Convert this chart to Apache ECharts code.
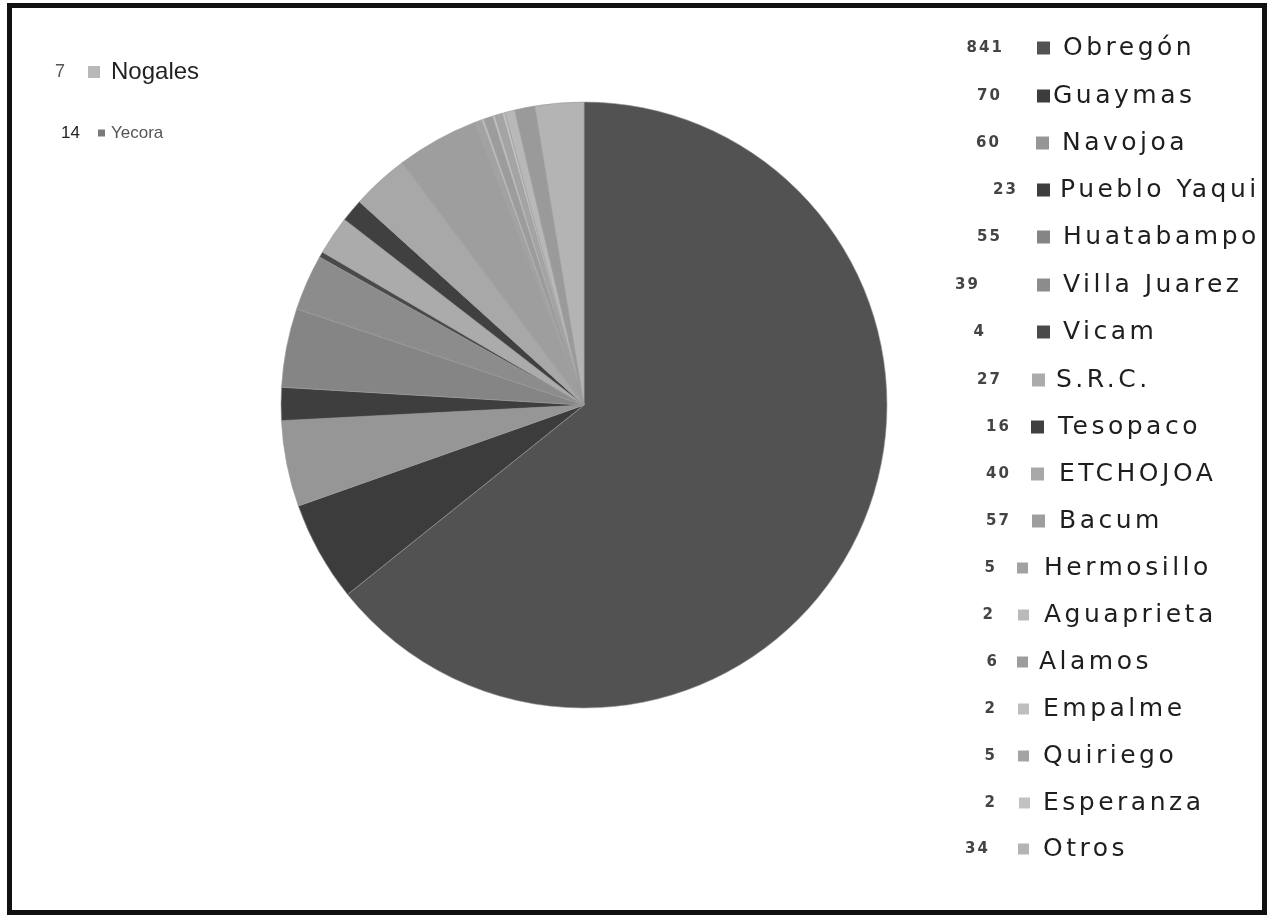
<!DOCTYPE html>
<html>
<head>
<meta charset="utf-8">
<script src="https://cdn.jsdelivr.net/npm/echarts@6/dist/echarts.min.js"></script>
<style>
html,body{margin:0;padding:0;background:#fff;}
#chart{width:1269px;height:916px;}
</style>
</head>
<body>
<div id="chart"></div>
<script>
// ---- data (pie order, clockwise from 12 o'clock) ----
var categories = ['Obregón','Guaymas','Navojoa','Pueblo Yaqui','Huatabampo','Villa Juarez','Vicam','S.R.C.','Tesopaco','ETCHOJOA','Bacum','Hermosillo','Aguaprieta','Alamos','Empalme','Quiriego','Esperanza','Nogales','Yecora','Otros'];
var values = [841,70,60,23,55,39,4,27,16,40,57,5,2,6,2,5,2,7,14,34];
var valueLabels = ['841','70','60','23','55','39','4','27','16','40','57','5','2','6','2','5','2','7','14','34'];
var rightLegendNames = ['Obregón','Guaymas','Navojoa','Pueblo Yaqui','Huatabampo','Villa Juarez','Vicam','S.R.C.','Tesopaco','ETCHOJOA','Bacum','Hermosillo','Aguaprieta','Alamos','Empalme','Quiriego','Esperanza','Otros'];
var leftLegendNames = ['Nogales','Yecora'];

// ---- styles / layout (kept apart from the data) ----
var colors = ['#525252','#3c3c3c','#969696','#3e3e3e','#858585','#8c8c8c','#4a4a4a','#ababab','#404040','#a8a8a8','#9e9e9e','#a2a2a2','#bababa','#9c9c9c','#bebebe','#a4a4a4','#c2c2c2','#b8b8b8','#9a9a9a','#b4b4b4'];
var yecoraIconColor = '#7a7a7a';
// right legend rows: number right edge, box left, text left, row centre y, box size
var rNumRight = [1004,1002,1001,1018,1002,980,986,1002,1011,1011,1011,997,995,999,997,997,997,990];
var rBoxLeft  = [1036,1036,1035,1036,1036,1036,1036,1031,1030,1030,1031,1016,1017,1016,1017,1017,1018,1017];
var rTextLeft = [1062,1052,1061,1059,1062,1062,1062,1055,1057,1058,1058,1043,1043,1038,1042,1042,1042,1042];
var rY = [48,96,143,190,237,285,332,380,427,474,521,568,615,662,709,756,803,849];
var rBox = [13,13,13,13,13,13,13,13,13,13,13,11,11,11,11,11,11,11];
// left legend rows
var lNumRight = [65, 80];
var lBoxLeft = [87, 97];
var lTextLeft = [110, 110];
var lY = [72, 133];
var lBox = [12, 7];

// letter spacing only for the wide DejaVu text of the scanned original
(function () {
  var proto = CanvasRenderingContext2D.prototype;
  var orig = proto.fillText;
  proto.fillText = function (t, x, y, mw) {
    var spaced = /DejaVu/.test(this.font);
    if ('letterSpacing' in this) {
      if (spaced) {
        var m = /(\d+(?:\.\d+)?)px/.exec(this.font);
        var fs = m ? parseFloat(m[1]) : 12;
        this.letterSpacing = (fs * 0.14).toFixed(1) + 'px';
      } else {
        this.letterSpacing = '0px';
      }
    }
    if (mw === undefined) orig.call(this, t, x, y); else orig.call(this, t, x, y, mw);
    if ('letterSpacing' in this) this.letterSpacing = '0px';
  };
})();

// ---- build ----
var pieData = categories.map(function (c, i) {
  return { name: c, value: values[i], itemStyle: { color: colors[i] } };
});

var legends = [];
var graphics = [
  { type: 'rect', shape: { x: 9.5, y: 5.5, width: 1255, height: 907 }, style: { fill: 'none', stroke: '#111', lineWidth: 5 }, silent: true }
];

function addRow(name, numRight, boxLeft, textLeft, y, box, fontFamily, fontSize, textColor, numFont, numColor, iconColor) {
  var i = categories.indexOf(name);
  var lh = 30;
  var legLeft = boxLeft - 40;
  var rich = {
    sp: { width: boxLeft - legLeft - 5, height: 1 },
    bx: { width: box, height: box, backgroundColor: iconColor || colors[i] },
    t: { fontSize: fontSize, fontFamily: fontFamily, color: textColor, lineHeight: lh,
         padding: [0, 0, 0, textLeft - boxLeft - box] }
  };
  legends.push({
    orient: 'vertical', icon: 'rect', itemWidth: 0, itemHeight: 0, padding: 0,
    selectedMode: false, data: [name],
    left: legLeft, top: y - lh / 2,
    formatter: function (n) { return '{sp|}{bx|}{t|' + n + '}'; },
    textStyle: { lineHeight: lh, fontFamily: fontFamily, fontSize: fontSize, rich: rich }
  });
  graphics.push({
    type: 'text', silent: true,
    x: numRight, y: y,
    style: { text: valueLabels[i], align: 'right', verticalAlign: 'middle', font: numFont, fill: numColor }
  });
}

rightLegendNames.forEach(function (name, k) {
  addRow(name, rNumRight[k], rBoxLeft[k], rTextLeft[k], rY[k], rBox[k],
    'DejaVu Sans', 25, '#1e1e1e', 'bold 15px "DejaVu Sans"', '#444444');
});
addRow(leftLegendNames[0], lNumRight[0], lBoxLeft[0], lTextLeft[0], lY[0], lBox[0],
  'Liberation Sans', 24, '#222222', '18px "Liberation Sans"', '#555555');
addRow(leftLegendNames[1], lNumRight[1], lBoxLeft[1], lTextLeft[1], lY[1], lBox[1],
  'Liberation Sans', 17, '#555555', '17px "Liberation Sans"', '#222222', yecoraIconColor);

var chart = echarts.init(document.getElementById('chart'), null, { renderer: 'canvas' });
chart.setOption({
  backgroundColor: '#ffffff',
  animation: false,
  legend: legends,
  graphic: graphics,
  series: [{
    type: 'pie',
    center: [584, 405],
    radius: 303,
    startAngle: 90,
    clockwise: true,
    avoidLabelOverlap: false,
    label: { show: false },
    labelLine: { show: false },
    emphasis: { disabled: true },
    itemStyle: { borderColor: '#9a9a9a', borderWidth: 0.6 },
    data: pieData
  }]
});
</script>
</body>
</html>
